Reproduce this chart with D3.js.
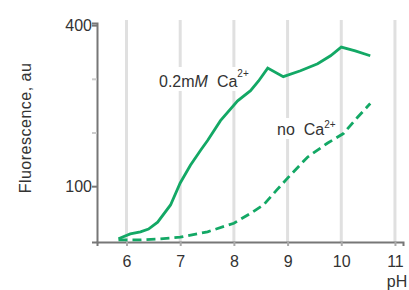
<!DOCTYPE html>
<html>
<head>
<meta charset="utf-8">
<script src="https://cdn.jsdelivr.net/npm/d3@7"></script>
<style>
  body { margin: 0; background: #fff; }
  text { font-family: "Liberation Sans", Arial, sans-serif; fill: #333; }
</style>
</head>
<body>
<div id="chart"></div>
<script>
// data
var xTicks = [6, 7, 8, 9, 10, 11];
var yTicks = [100, 200, 300, 400];
var yTickLabels = ["100", "", "", "400"];

var caPH = [5.85, 6.07, 6.26, 6.41, 6.58, 6.82, 7.0, 7.19, 7.38, 7.51, 7.75, 8.07, 8.31, 8.46, 8.63, 8.92, 9.24, 9.56, 9.8, 10.0, 10.26, 10.54];
var caF  = [2, 11, 15, 20, 33, 65, 106, 139, 167, 185, 222, 259, 278, 296, 320, 304, 315, 328, 343, 359, 352, 343];

var noPH = [5.85, 6.26, 6.63, 7.0, 7.51, 8.0, 8.32, 8.55, 8.8, 9.0, 9.37, 9.74, 10.04, 10.3, 10.54];
var noF  = [0, 0, 2, 5, 15, 31, 50, 65, 93, 115, 154, 180, 198, 228, 254];

var svgWidth = 409;
var svgHeight = 290;

var svg = d3.select("#chart")
  .append("svg")
  .attr("width", svgWidth)
  .attr("height", svgHeight);

var x = d3.scaleLinear().domain([5.45, 11.15]).range([97, 403]);
var y = d3.scaleLinear().domain([-4, 404]).range([242, 23]);

// vertical grid
svg.selectAll("line.grid")
  .data(xTicks)
  .enter().append("line")
  .attr("class", "grid")
  .attr("x1", d => x(d)).attr("x2", d => x(d))
  .attr("y1", 20).attr("y2", 242)
  .attr("stroke", "#e0e0e0")
  .attr("stroke-width", 3);

// axes
var bottomAxis = d3.axisBottom(x).tickValues(xTicks).tickSize(4).tickPadding(10).tickFormat(d3.format("d"));
var leftAxis = d3.axisLeft(y).tickValues(yTicks).tickSize(5).tickPadding(0)
  .tickFormat((d, i) => yTickLabels[i]);

var gx = svg.append("g")
  .attr("transform", "translate(0, 242)")
  .call(bottomAxis);
var gy = svg.append("g")
  .attr("transform", "translate(97, 0)")
  .call(leftAxis);

[gx, gy].forEach(function(g) {
  g.select(".domain").attr("stroke", "#777").attr("stroke-width", 2);
  g.selectAll(".tick line").attr("stroke", "#aaa").attr("stroke-width", 2);
  g.selectAll(".tick text")
    .style("font-family", "'Liberation Sans', Arial, sans-serif")
    .style("font-size", "16px")
    .attr("fill", "#333");
});
gy.selectAll(".tick line").attr("stroke", (d) => (d === 100 || d === 400) ? "#777" : "#ccc");

// axis labels
svg.append("text")
  .attr("transform", "translate(31, 128) rotate(-90)")
  .attr("text-anchor", "middle")
  .style("font-size", "16px")
  .style("letter-spacing", "0.5px")
  .text("Fluorescence, au");

svg.append("text")
  .attr("x", 397).attr("y", 287)
  .attr("text-anchor", "middle")
  .style("font-size", "16px")
  .text("pH");

// curve labels with white boxes (under the curves, over the grid)
function label(px, py, supDy, parts) {
  var g = svg.append("g");
  var bg = g.append("rect").attr("fill", "#fff");
  var t = g.append("text").attr("x", px).attr("y", py).style("font-size", "16px");
  parts.forEach(function(p) {
    var s = t.append("tspan").text(p.t);
    if (p.it) s.style("font-style", "italic");
    if (p.sup) s.style("font-size", "10px").attr("dy", supDy);
    if (p.dx) s.attr("dx", p.dx);
  });
  var b = t.node().getBBox();
  bg.attr("x", b.x - 3).attr("y", b.y - 1).attr("width", b.width + 6).attr("height", b.height + 2);
}

label(159, 87, -10, [{t: "0.2m"}, {t: "M", it: true}, {t: "Ca", dx: 9}, {t: "2+", sup: true}]);
label(277, 135, -7, [{t: "no"}, {t: "Ca", dx: 9}, {t: "2+", sup: true}]);

// curves
var line = d3.line()
  .x(d => x(d[0]))
  .y(d => y(d[1]));

svg.append("path")
  .datum(caPH.map((p, i) => [p, caF[i]]))
  .attr("d", line)
  .attr("fill", "none")
  .attr("stroke", "#13a865")
  .attr("stroke-width", 2.8);

svg.append("path")
  .datum(noPH.map((p, i) => [p, noF[i]]))
  .attr("d", line)
  .attr("fill", "none")
  .attr("stroke", "#13a865")
  .attr("stroke-width", 2.8)
  .attr("stroke-dasharray", "9,5");
</script>
</body>
</html>
